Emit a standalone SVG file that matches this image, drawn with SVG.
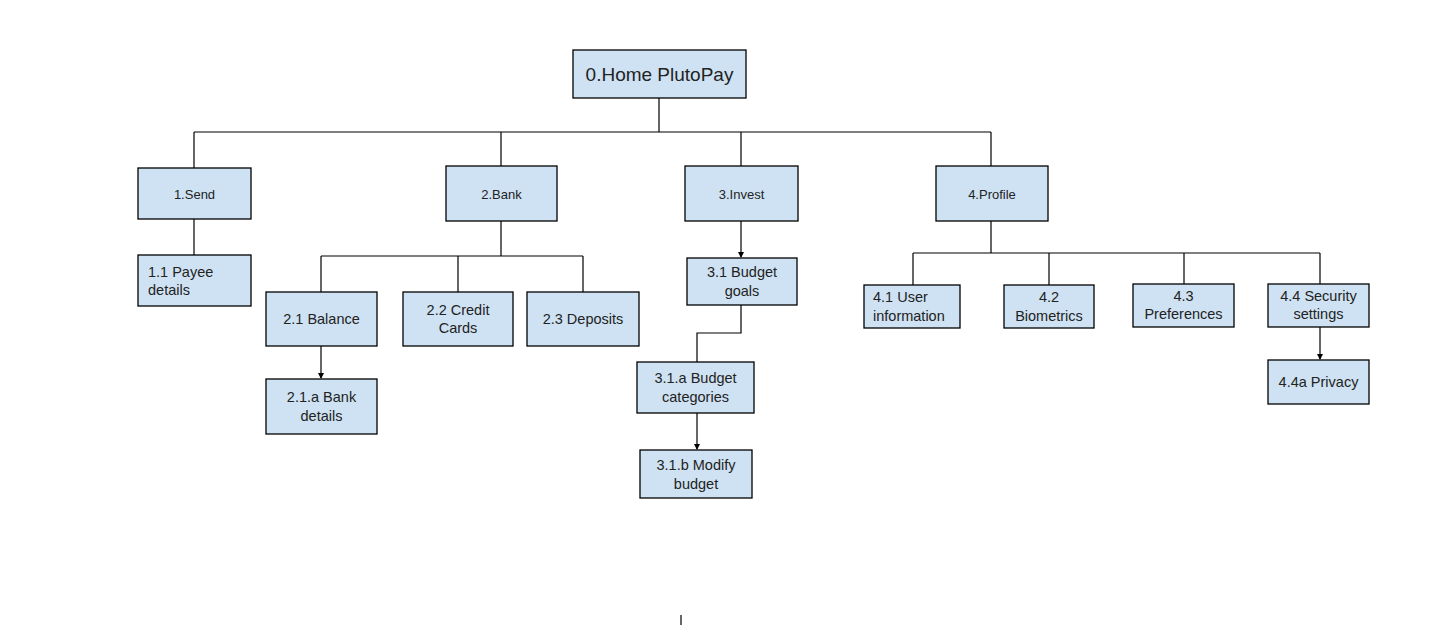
<svg xmlns="http://www.w3.org/2000/svg" width="1436" height="626" viewBox="0 0 1436 626">
<style>
.box{fill:#cfe2f3;stroke:#000;stroke-width:1.3}
.t{font-family:"Liberation Sans",Arial,sans-serif;font-size:14.5px;fill:#222;text-anchor:middle}
.s{font-size:13px}
.l{text-anchor:start}
.big{font-size:19px}
.c{fill:none;stroke:#000;stroke-width:1.2}
</style>
<defs>
<marker id="ah" markerWidth="6" markerHeight="6" refX="5" refY="3" orient="auto" markerUnits="userSpaceOnUse">
<path d="M0,0 L6,3 L0,6 Z" fill="#000"/>
</marker>
</defs>
<rect width="1436" height="626" fill="#fff"/>
<g id="connectors">
<path class="c" d="M659,98 V132 M194,132 H991 M194,132 V168 M501,132 V166 M741,132 V166 M991,132 V166"/>
<path class="c" d="M194,219 V255"/>
<path class="c" d="M501,221 V256 M321,256 H583 M321,256 V292 M458,256 V292 M583,256 V292"/>
<path class="c" d="M321,346 V378" marker-end="url(#ah)"/>
<path class="c" d="M741,221 V257" marker-end="url(#ah)"/>
<path class="c" d="M741,305 V333 H697 V362"/>
<path class="c" d="M697,413 V449" marker-end="url(#ah)"/>
<path class="c" d="M991,221 V253 M913,253 H1320 M913,253 V285 M1049,253 V285 M1184,253 V284 M1320,253 V284"/>
<path class="c" d="M1320,327 V359" marker-end="url(#ah)"/>
<path class="c" d="M681,615 V625"/>
</g>
<g id="n0"><rect class="box" x="573" y="50" width="173" height="48"/><text class="t big" x="659.5" y="81">0.Home PlutoPay</text></g>
<g id="n1"><rect class="box" x="138" y="168" width="113" height="51"/><text class="t s" x="194.5" y="199">1.Send</text></g>
<g id="n11"><rect class="box" x="138" y="255" width="113" height="51"/><text class="t l" x="148" y="277">1.1 Payee</text><text class="t l" x="148" y="295">details</text></g>
<g id="n2"><rect class="box" x="446" y="166" width="111" height="55"/><text class="t s" x="501.5" y="199">2.Bank</text></g>
<g id="n21"><rect class="box" x="266" y="292" width="111" height="54"/><text class="t" x="321.5" y="324">2.1 Balance</text></g>
<g id="n22"><rect class="box" x="403" y="292" width="110" height="54"/><text class="t" x="458" y="315">2.2 Credit</text><text class="t" x="458" y="333">Cards</text></g>
<g id="n23"><rect class="box" x="527" y="292" width="112" height="54"/><text class="t" x="583" y="324">2.3 Deposits</text></g>
<g id="n21a"><rect class="box" x="266" y="379" width="111" height="55"/><text class="t" x="321.5" y="402">2.1.a Bank</text><text class="t" x="321.5" y="421">details</text></g>
<g id="n3"><rect class="box" x="685" y="166" width="113" height="55"/><text class="t s" x="741.5" y="199">3.Invest</text></g>
<g id="n31"><rect class="box" x="687" y="258" width="110" height="47"/><text class="t" x="742" y="277">3.1 Budget</text><text class="t" x="742" y="296">goals</text></g>
<g id="n31a"><rect class="box" x="637" y="362" width="117" height="51"/><text class="t" x="695.5" y="383">3.1.a Budget</text><text class="t" x="695.5" y="402">categories</text></g>
<g id="n31b"><rect class="box" x="640" y="450" width="112" height="48"/><text class="t" x="696" y="470">3.1.b Modify</text><text class="t" x="696" y="489">budget</text></g>
<g id="n4"><rect class="box" x="936" y="166" width="112" height="55"/><text class="t s" x="992" y="199">4.Profile</text></g>
<g id="n41"><rect class="box" x="864" y="285" width="96" height="43"/><text class="t l" x="873" y="302">4.1 User</text><text class="t l" x="873" y="321">information</text></g>
<g id="n42"><rect class="box" x="1004" y="285" width="90" height="43"/><text class="t" x="1049" y="302">4.2</text><text class="t" x="1049" y="321">Biometrics</text></g>
<g id="n43"><rect class="box" x="1133" y="284" width="101" height="43"/><text class="t" x="1183.5" y="301">4.3</text><text class="t" x="1183.5" y="319">Preferences</text></g>
<g id="n44"><rect class="box" x="1268" y="284" width="101" height="43"/><text class="t" x="1318.5" y="301">4.4 Security</text><text class="t" x="1318.5" y="319">settings</text></g>
<g id="n44a"><rect class="box" x="1268" y="360" width="101" height="44"/><text class="t" x="1318.5" y="387">4.4a Privacy</text></g>
</svg>
